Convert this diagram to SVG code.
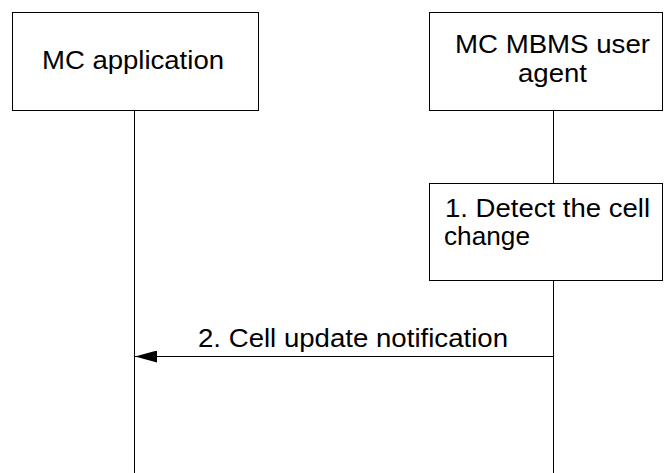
<svg xmlns="http://www.w3.org/2000/svg" width="664" height="473" viewBox="0 0 664 473">
<style>
.box{fill:#fff;stroke:#000;stroke-width:1}
.ll{stroke:#000;stroke-width:1;fill:none}
text{font-family:"Liberation Sans",Arial,sans-serif;font-size:26px;fill:#000}
</style>
<defs>
<marker id="ah" markerWidth="22" markerHeight="12" refX="22" refY="6" orient="auto" markerUnits="userSpaceOnUse">
<path d="M0,0 L22,6 L0,12 Z" fill="#000"/>
</marker>
</defs>
<rect width="664" height="473" fill="#fff"/>
<g id="lifelines">
<line class="ll" x1="134.5" y1="110" x2="134.5" y2="473"/>
<line class="ll" x1="553.5" y1="110" x2="553.5" y2="183"/>
<line class="ll" x1="553.5" y1="280" x2="553.5" y2="473"/>
</g>
<g id="mc-application">
<rect class="box" x="12.5" y="12.5" width="246" height="98"/>
<text x="42" y="69" textLength="182" lengthAdjust="spacingAndGlyphs">MC application</text>
</g>
<g id="mbms-agent">
<rect class="box" x="429.5" y="12.5" width="233" height="98"/>
<text x="455" y="53" textLength="195" lengthAdjust="spacingAndGlyphs">MC MBMS user</text>
<text x="518" y="82" textLength="69" lengthAdjust="spacingAndGlyphs">agent</text>
</g>
<g id="step1">
<rect class="box" x="429.5" y="183.5" width="233" height="97"/>
<text x="445" y="217" textLength="205" lengthAdjust="spacingAndGlyphs">1. Detect the cell</text>
<text x="444" y="245" textLength="86" lengthAdjust="spacingAndGlyphs">change</text>
</g>
<g id="connectors">
<line class="ll" x1="553" y1="356.5" x2="135" y2="356.5" marker-end="url(#ah)"/>
<text x="198" y="347" textLength="310" lengthAdjust="spacingAndGlyphs">2. Cell update notification</text>
</g>
</svg>
